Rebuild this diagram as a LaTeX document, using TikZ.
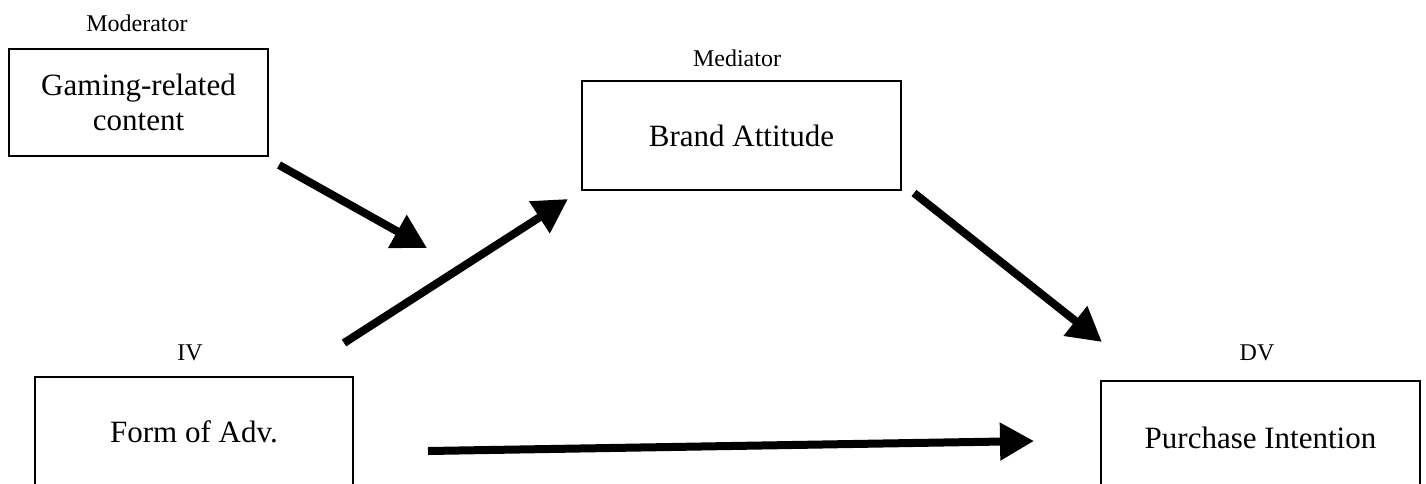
\documentclass[tikz,border=0pt]{standalone}
\usepackage{fontspec}
\setmainfont{Liberation Serif}
\usetikzlibrary{arrows.meta}
\begin{document}
\begin{tikzpicture}[x=1pt,y=-1pt,
  varbox/.style={draw=black,line width=2.6pt,inner sep=0pt,align=center,
    font=\fontsize{31}{35}\selectfont},
  lbl/.style={inner sep=0pt,font=\fontsize{24}{27}\selectfont},
  bigarrow/.style={line width=8pt,-{Triangle[length=34pt,width=36pt]}}]
\useasboundingbox (0,0) rectangle (1426,483);
\fill[white] (0,0) rectangle (1426,483);
% boxes
\node[varbox,minimum width=259pt,minimum height=107pt] (mod) at (138.5,102.5) {Gaming-related\\content};
\node[varbox,minimum width=319pt,minimum height=109pt] (med) at (741.5,135.5) {Brand Attitude};
\node[varbox,minimum width=318pt,minimum height=109pt] (iv) at (194,431.5) {Form of Adv.};
\node[varbox,minimum width=319pt,minimum height=114pt] (dv) at (1260.5,438) {Purchase Intention};
% labels
\node[lbl] (modl) at (137,23) {Moderator};
\node[lbl] (medl) at (737,58) {Mediator};
\node[lbl] (ivl) at (190,353) {IV};
\node[lbl] (dvl) at (1257,353) {DV};
% arrows
\coordinate (a1s) at (279,165);
\coordinate (a1e) at (427,248);
\coordinate (a2s) at (344,343);
\coordinate (a2e) at (568,199);
\coordinate (a3s) at (914,193);
\coordinate (a3e) at (1102,342);
\coordinate (a4s) at (428,451);
\coordinate (a4e) at (1034,441);
\draw[bigarrow] (a1s) -- (a1e);
\draw[bigarrow] (a2s) -- (a2e);
\draw[bigarrow] (a3s) -- (a3e);
\draw[bigarrow] (a4s) -- (a4e);
\end{tikzpicture}
\end{document}
